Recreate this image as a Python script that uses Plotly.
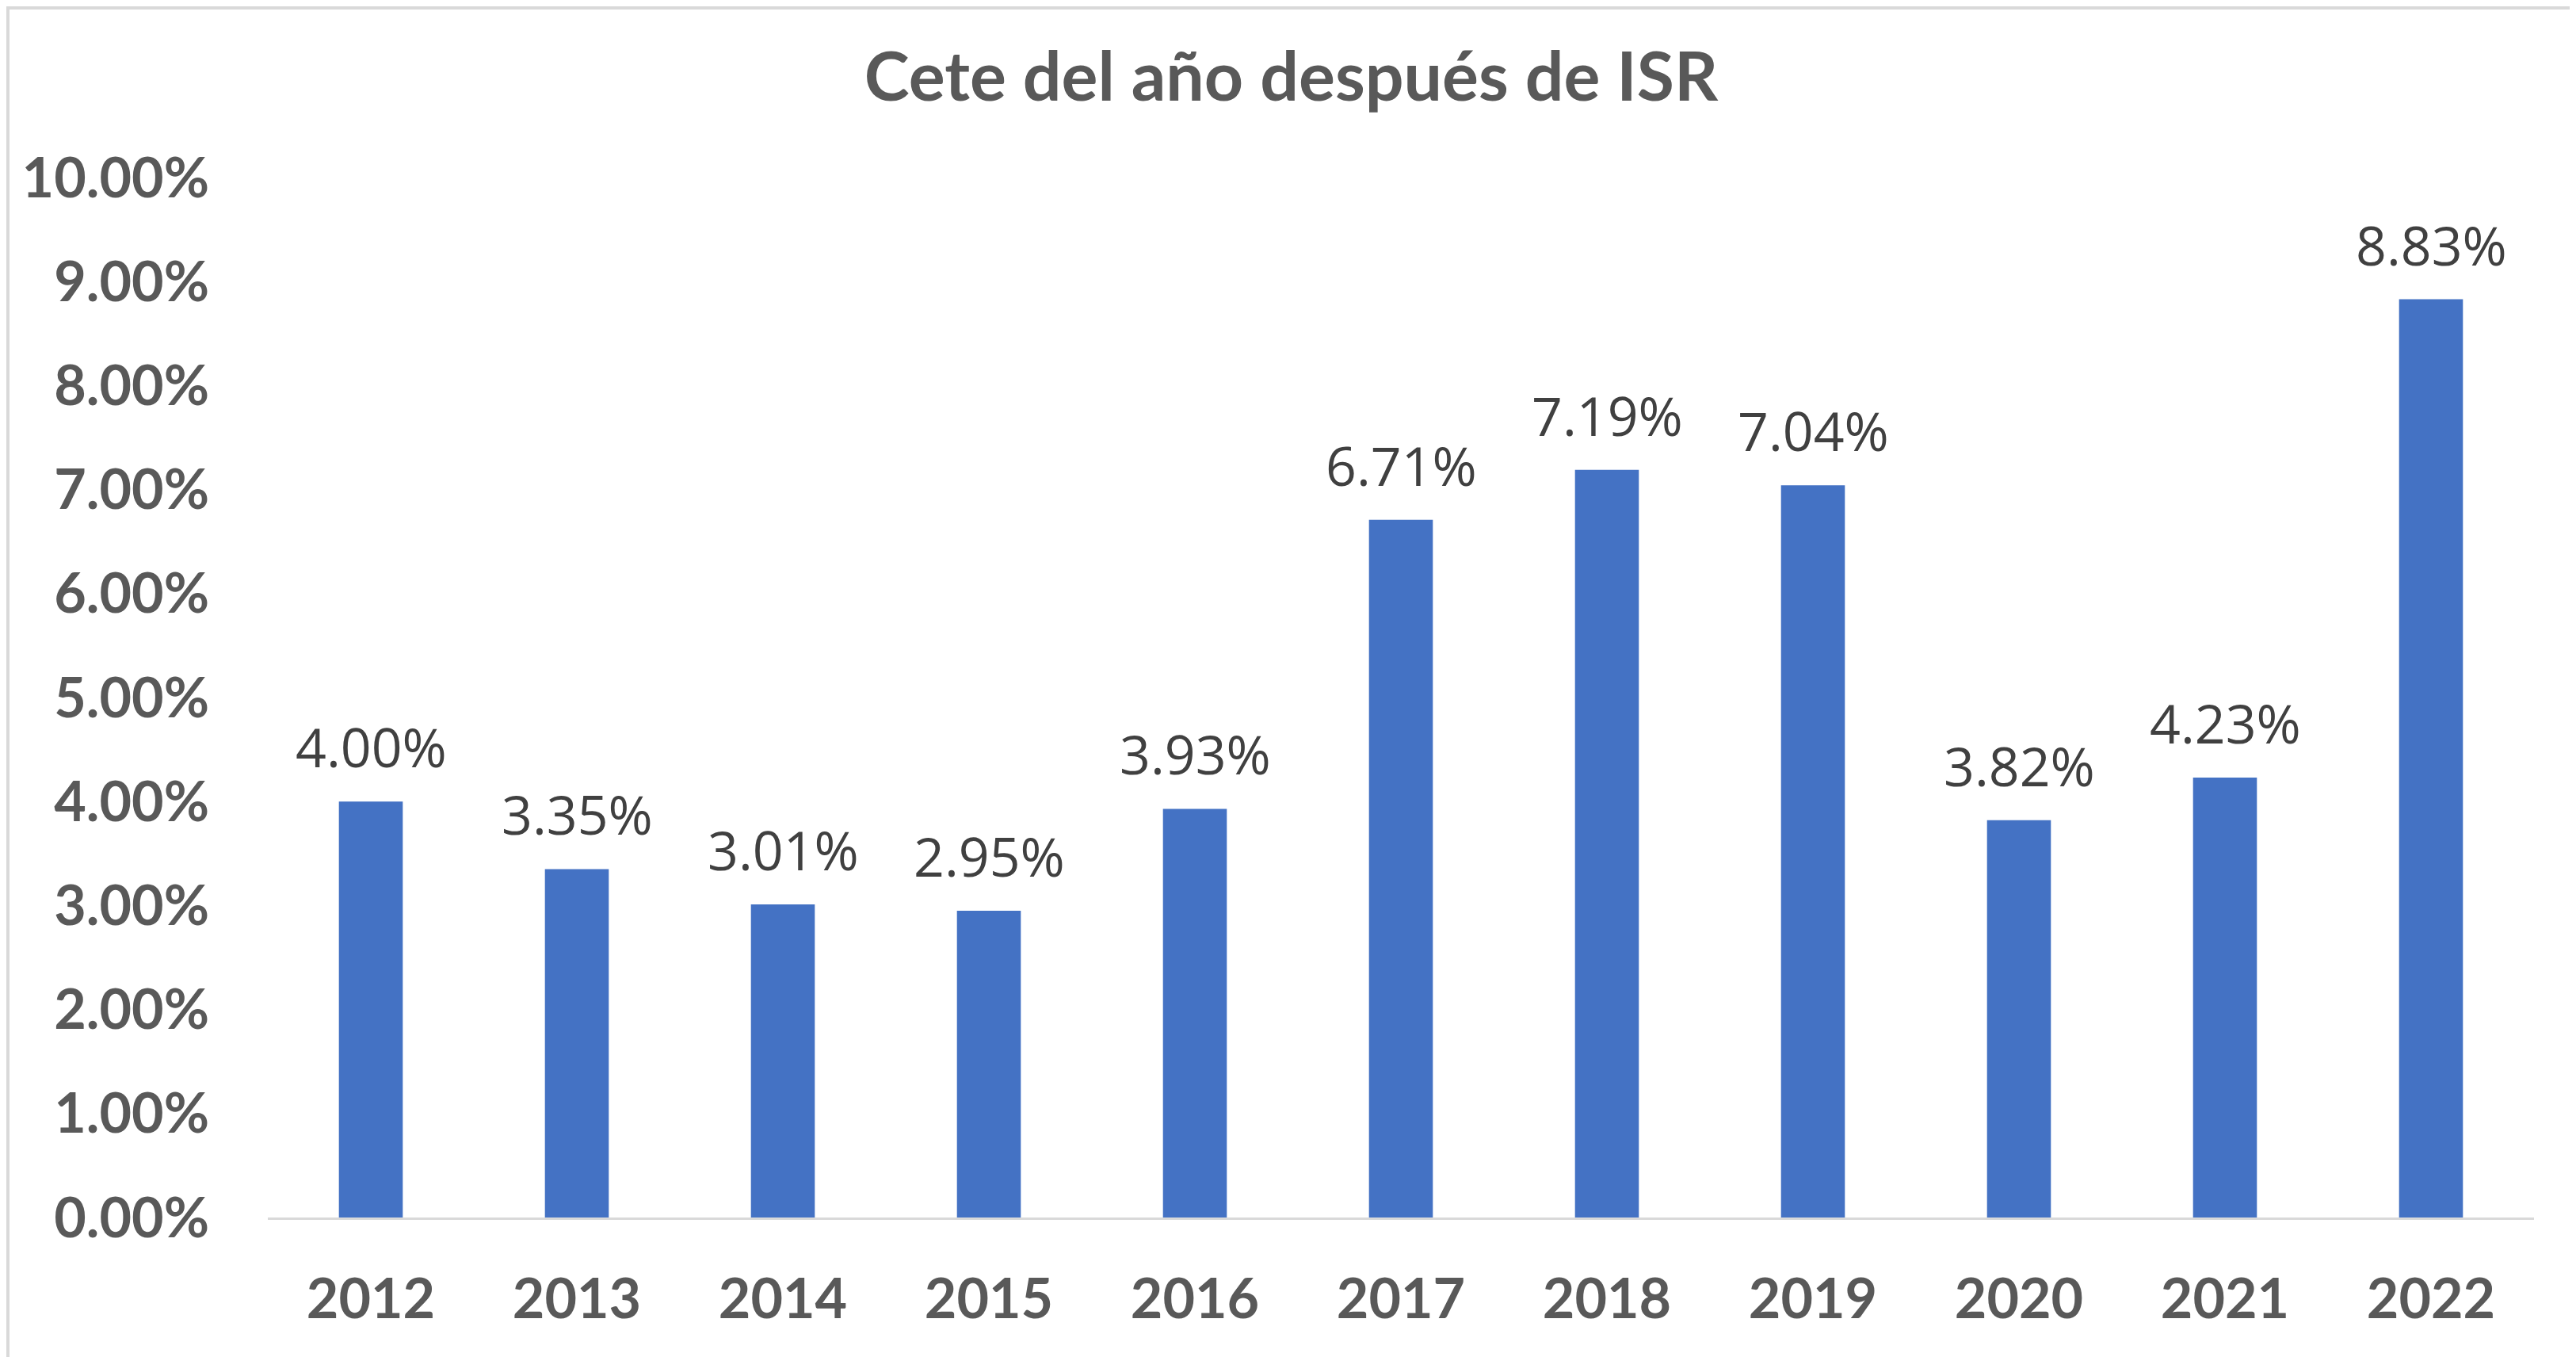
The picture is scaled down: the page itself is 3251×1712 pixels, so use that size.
import plotly.graph_objects as go

years = ["2012", "2013", "2014", "2015", "2016", "2017", "2018", "2019", "2020", "2021", "2022"]
rates = [0.0400, 0.0335, 0.0301, 0.0295, 0.0393, 0.0671, 0.0719, 0.0704, 0.0382, 0.0423, 0.0883]
title_text = "Cete del año después de ISR"

# page body has an 8px default margin, so the figure is sized to fit inside the window
W, H = 3243, 1704
L, R, T, B = 330, 53, 216, 176
pw, ph = W - L - R, H - T - B

bold_font = "Lato, Liberation Sans, sans-serif"

fig = go.Figure()
fig.add_trace(go.Bar(
    x=years, y=rates,
    marker=dict(color="#4472C4", line=dict(width=0)),
    hoverinfo="x+y",
))

# category axes place annotations by serial index of the category
for i, v in enumerate(rates):
    fig.add_annotation(
        x=i, y=v, xref="x", yref="y",
        text=f"{v*100:.2f}%",
        showarrow=False, yanchor="bottom", yshift=21,
        font=dict(family="Open Sans, sans-serif", size=68, color="#404040"),
    )

# outer border
fig.add_shape(
    type="rect", xref="paper", yref="paper",
    x0=(2 - L) / pw, x1=(W - 2 - L) / pw,
    y0=(B - (H - 2)) / ph, y1=1 + (T - 2) / ph,
    line=dict(color="#D9D9D9", width=4), fillcolor="rgba(0,0,0,0)", layer="below",
)

fig.update_layout(
    width=W, height=H,
    margin=dict(l=L, r=R, t=T, b=B, pad=0),
    paper_bgcolor="white", plot_bgcolor="white",
    bargap=0.69,
    showlegend=False,
    title=dict(
        text=title_text, x=0.5, xanchor="center", y=1 - 89 / H, yanchor="middle",
        font=dict(family=bold_font, size=86, color="#595959", weight="bold"),
    ),
    xaxis=dict(
        type="category", range=[-0.5, len(years) - 0.5],
        showgrid=False, zeroline=False, showline=True, linecolor="#D9D9D9", linewidth=3,
        ticks="", ticklabelstandoff=40,
        tickfont=dict(family=bold_font, size=70, color="#595959", weight="bold"),
    ),
    yaxis=dict(
        range=[0, 0.1000001], dtick=0.01, tick0=0, tickformat=".2%",
        showgrid=False, zeroline=False, showline=False,
        ticks="", ticklabelstandoff=73,
        tickfont=dict(family=bold_font, size=70, color="#595959", weight="bold"),
    ),
)

fig.write_html("out.html")
